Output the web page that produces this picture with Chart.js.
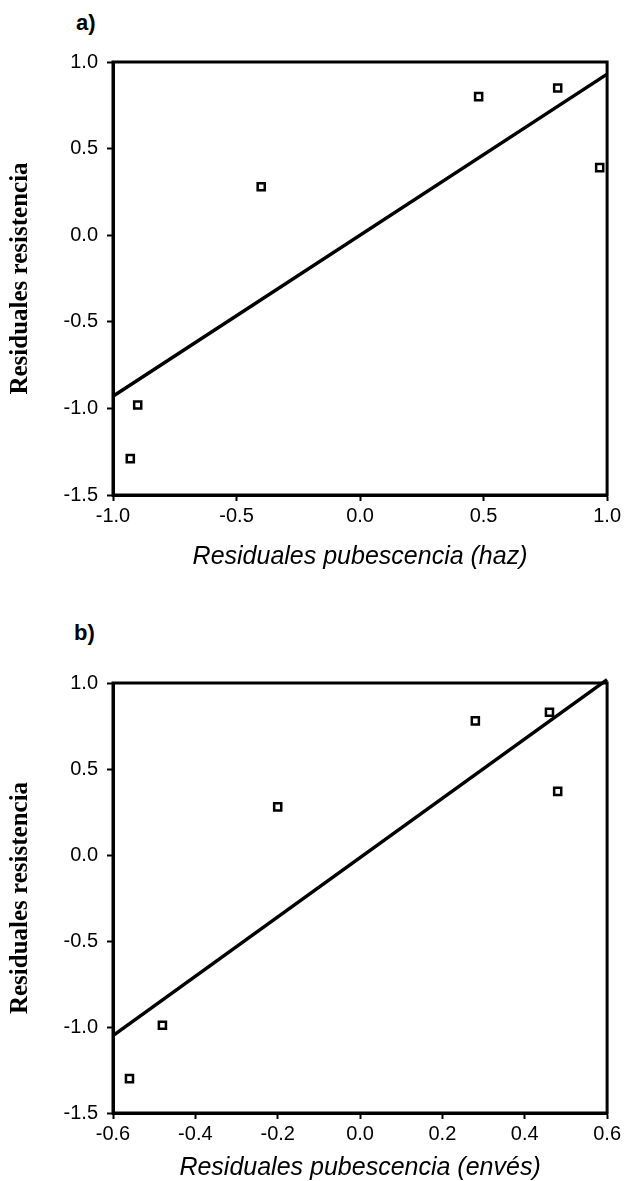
<!DOCTYPE html>
<html>
<head>
<meta charset="utf-8">
<script src="https://cdn.jsdelivr.net/npm/chart.js@4.4.1/dist/chart.umd.min.js"></script>
<style>
  body { margin: 0; background: #fff; }
  #wrap { position: relative; width: 624px; height: 1181px; overflow: hidden; }
  canvas { position: absolute; left: 0; }
  .tag { position: absolute; font: bold 22px "Liberation Sans", Arial, sans-serif; color: #000; }
</style>
</head>
<body>
<div id="wrap">
  <div class="tag" style="left:76px; top:10px;">a)</div>
  <canvas id="chartA" width="624" height="590" style="top:0px"></canvas>
  <div class="tag" style="left:74px; top:620px;">b)</div>
  <canvas id="chartB" width="624" height="581" style="top:600px"></canvas>
</div>
<script>
// panel a) residuales pubescencia (haz)
const xA = [-0.93, -0.90, -0.40, 0.48, 0.80, 0.97];
const yA = [-1.29, -0.98, 0.28, 0.80, 0.85, 0.39];
const fitXA = [-1.0, 1.0];
const fitYA = [-0.93, 0.93];
const xTicksA = [-1.0, -0.5, 0.0, 0.5, 1.0];

// panel b) residuales pubescencia (envés)
const xB = [-0.56, -0.48, -0.20, 0.28, 0.46, 0.48];
const yB = [-1.30, -0.99, 0.28, 0.78, 0.83, 0.37];
const fitXB = [-0.6, 0.6];
const fitYB = [-1.05, 1.02];
const xTicksB = [-0.6, -0.4, -0.2, 0.0, 0.2, 0.4, 0.6];

const yTicks = [-1.5, -1.0, -0.5, 0.0, 0.5, 1.0];

const yTitle = 'Residuales resistencia';
const xTitleA = 'Residuales pubescencia (haz)';
const xTitleB = 'Residuales pubescencia (envés)';

const tickFont = { family: '"Liberation Sans", Arial, sans-serif', size: 20 };

// box around the plot area
const frame = {
  id: 'frame',
  afterDraw(chart) {
    const { ctx, chartArea: a } = chart;
    ctx.save();
    ctx.strokeStyle = '#000';
    ctx.lineWidth = 3;
    ctx.strokeRect(a.left, a.top, a.right - a.left, a.bottom - a.top);
    ctx.restore();
  }
};

function axisOpts(ticks, extra) {
  return Object.assign({
    type: 'linear',
    min: ticks[0],
    max: ticks[ticks.length - 1],
    afterBuildTicks: s => { s.ticks = ticks.map(v => ({ value: v })); },
    grid: { display: true, drawOnChartArea: false, drawTicks: true, tickLength: 6, tickWidth: 2, tickColor: '#000' },
    border: { display: true, color: '#000', width: 3 },
    ticks: {
      autoSkip: false,
      color: '#000',
      font: tickFont,
      callback: v => (Math.abs(v) < 1e-9 ? 0 : v).toFixed(1)
    }
  }, extra);
}

function makeChart(id, xs, ys, fx, fy, xTicks, xTitle, lay) {
  const pts = xs.map((x, i) => ({ x, y: ys[i] }));
  const fit = fx.map((x, i) => ({ x, y: fy[i] }));
  return new Chart(document.getElementById(id), {
    type: 'scatter',
    data: {
      datasets: [
        {
          type: 'line',
          data: fit,
          borderColor: '#000',
          borderWidth: 3.5,
          pointRadius: 0,
          fill: false,
          clip: false
        },
        {
          data: pts,
          pointStyle: 'rect',
          pointRadius: 5,
          backgroundColor: '#fff',
          borderColor: '#000',
          borderWidth: 2.5,
          clip: false
        }
      ]
    },
    options: {
      responsive: false,
      animation: false,
      layout: { padding: { top: lay.top, right: 15, bottom: 0, left: 0 } },
      plugins: { legend: { display: false }, tooltip: { enabled: false } },
      scales: {
        x: axisOpts(xTicks, {
          afterFit: s => { s.height = lay.xh; },
          title: {
            display: true,
            text: xTitle,
            color: '#000',
            font: { family: '"Liberation Sans", Arial, sans-serif', size: 25, style: 'italic', lineHeight: 1 },
            padding: { top: 0, bottom: lay.tpad }
          }
        }),
        y: axisOpts(yTicks, {
          afterFit: s => { s.width = 113; },
          ticks: {
            autoSkip: false,
            color: '#000',
            font: tickFont,
            padding: 9,
            callback: v => (Math.abs(v) < 1e-9 ? 0 : v).toFixed(1)
          },
          title: {
            display: true,
            text: yTitle,
            color: '#000',
            font: { family: '"Liberation Serif", "Times New Roman", serif', size: 25, weight: 'bold', lineHeight: 1 },
            padding: { top: 8, bottom: 0 }
          }
        })
      }
    },
    plugins: [frame]
  });
}

makeChart('chartA', xA, yA, fitXA, fitYA, xTicksA, xTitleA, { top: 62, xh: 95, tpad: 20 });
makeChart('chartB', xB, yB, fitXB, fitYB, xTicksB, xTitleB, { top: 83, xh: 68, tpad: 0 });
</script>
</body>
</html>
